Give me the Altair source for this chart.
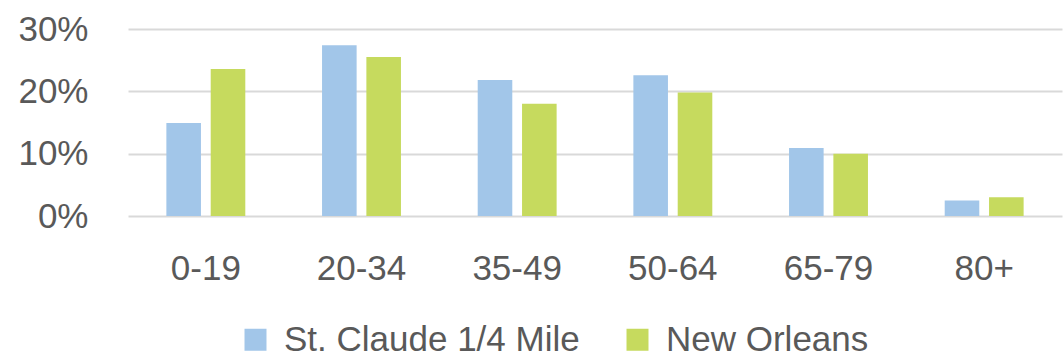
import altair as alt
import pandas as pd

categories = ["0-19", "20-34", "35-49", "50-64", "65-79", "80+"]
series_names = ["St. Claude 1/4 Mile", "New Orleans"]
st_claude = [0.149, 0.274, 0.218, 0.226, 0.109, 0.025]
new_orleans = [0.236, 0.255, 0.180, 0.198, 0.100, 0.030]
y_ticks = [0, 0.1, 0.2, 0.3]
colors = ["#A2C6E9", "#C6DA5E"]

rows = []
for c, a, b in zip(categories, st_claude, new_orleans):
    rows.append({"age": c, "series": series_names[0], "value": a})
    rows.append({"age": c, "series": series_names[1], "value": b})
df = pd.DataFrame(rows)

FONT = "Liberation Sans Narrow, Arial Narrow, Liberation Sans, Arial"
TXT = "#595959"
FS = 35

chart = (
    alt.Chart(df)
    .mark_bar()
    .encode(
        x=alt.X(
            "age:N",
            sort=categories,
            scale=alt.Scale(paddingInner=0.493, paddingOuter=0.2465),
            axis=alt.Axis(
                title=None, labelAngle=0, labelFontSize=FS, labelFont=FONT,
                labelColor=TXT, labelPadding=35, ticks=False, domain=False,
                grid=False,
            ),
        ),
        xOffset=alt.XOffset(
            "series:N", sort=series_names,
            scale=alt.Scale(paddingInner=0.22, paddingOuter=0),
        ),
        y=alt.Y(
            "value:Q",
            scale=alt.Scale(domain=[0, 0.3], nice=False),
            axis=alt.Axis(
                title=None, values=y_ticks, format=".0%", labelFontSize=FS,
                labelFont=FONT, labelColor=TXT, labelPadding=40, ticks=False,
                domain=False, grid=True, gridColor="#D9D9D9", gridWidth=2,
            ),
        ),
        color=alt.Color(
            "series:N", sort=series_names,
            scale=alt.Scale(domain=series_names, range=colors),
            legend=alt.Legend(
                title=None, orient="none", direction="horizontal",
                legendX=110, legendY=293, symbolType="square",
                symbolSize=484, symbolStrokeWidth=0, labelFontSize=FS,
                labelFont=FONT, labelColor=TXT, labelOffset=11,
                columnPadding=40, labelLimit=400,
            ),
        ),
    )
    .properties(
        width=934, height=187,
        padding={"left": 128, "top": 29, "right": 2, "bottom": 142},
        autosize=alt.AutoSizeParams(type="none"),
    )
    .configure_view(stroke=None)
)

chart.save("out.html", embed_options={"renderer": "svg", "actions": False})
